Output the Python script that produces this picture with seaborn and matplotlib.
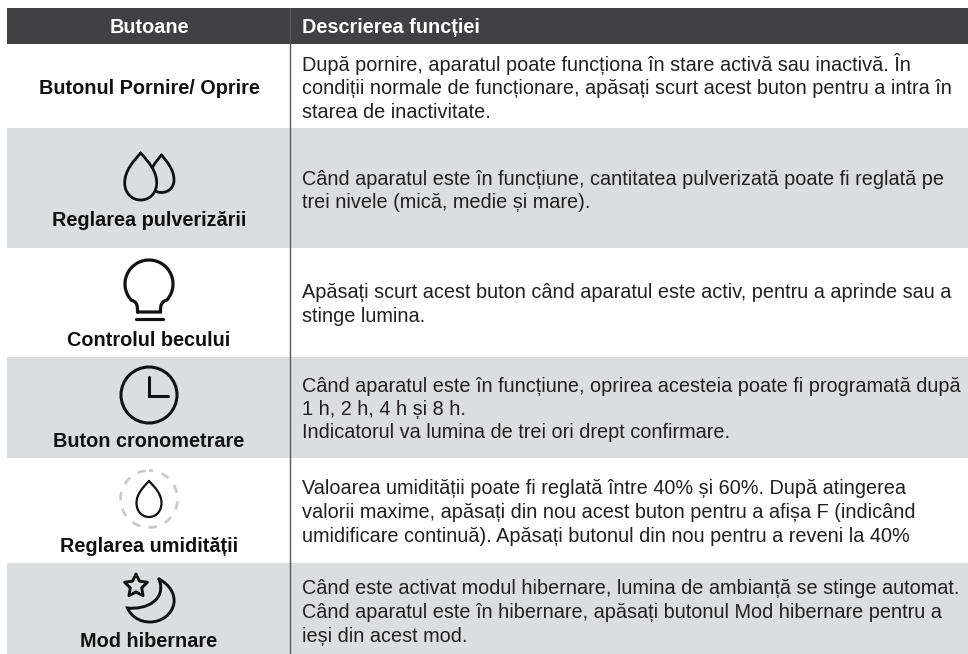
import matplotlib
matplotlib.use('Agg')
import matplotlib.pyplot as plt
from matplotlib.path import Path
from matplotlib.patches import PathPatch, Circle, Polygon
import numpy as np
import seaborn as sns

# table content
headers = ['Butoane', 'Descrierea funcției']
buttons = ['Butonul Pornire/ Oprire', 'Reglarea pulverizării', 'Controlul becului',
           'Buton cronometrare', 'Reglarea umidității', 'Mod hibernare']
descriptions = [
    ['După pornire, aparatul poate funcționa în stare activă sau inactivă. În',
     'condiții normale de funcționare, apăsați scurt acest buton pentru a intra în',
     'starea de inactivitate.'],
    ['Când aparatul este în funcțiune, cantitatea pulverizată poate fi reglată pe',
     'trei nivele (mică, medie și mare).'],
    ['Apăsați scurt acest buton când aparatul este activ, pentru a aprinde sau a',
     'stinge lumina.'],
    ['Când aparatul este în funcțiune, oprirea acesteia poate fi programată după',
     '1 h, 2 h, 4 h și 8 h.',
     'Indicatorul va lumina de trei ori drept confirmare.'],
    ['Valoarea umidității poate fi reglată între 40% și 60%. După atingerea',
     'valorii maxime, apăsați din nou acest buton pentru a afișa F (indicând',
     'umidificare continuă). Apăsați butonul din nou pentru a reveni la 40%'],
    ['Când este activat modul hibernare, lumina de ambianță se stinge automat.',
     'Când aparatul este în hibernare, apăsați butonul Mod hibernare pentru a',
     'ieși din acest mod.'],
]
row_tops = [44, 128, 248, 357, 458, 563]
row_heights = [84, 120, 109, 101, 105, 91]
label_y = [94, 226, 346, 447, 552, 647]
text_y = [[71, 94, 118], [185, 208], [298, 322], [392, 415, 438], [494, 518, 542], [594, 618, 642]]

sns.set_theme(style='white')
plt.rcParams['font.family'] = ['Liberation Sans', 'DejaVu Sans']

fig, ax = plt.subplots(figsize=(9.68, 6.54), dpi=100)
ax.set_position([0, 0, 1, 1])
ax.set_xlim(0, 968)
ax.set_ylim(654, 0)
ax.axis('off')

# header and shaded rows
ax.barh(26, 961, height=36, left=7, color='#414042', linewidth=0)
for i in range(6):
    ax.barh(row_tops[i] + row_heights[i] / 2, 961, height=row_heights[i], left=7,
            color='#dcddde' if i % 2 else 'white', linewidth=0)
ax.plot([290, 290], [8, 654], color='#58595b', lw=1)

ax.text(149, 33, headers[0], color='white', fontsize=14.3, fontweight='bold', ha='center', va='baseline')
ax.text(302, 33, headers[1], color='white', fontsize=14.3, fontweight='bold', ha='left', va='baseline')
for i in range(6):
    ax.text(149, label_y[i], buttons[i], color='#111111', fontsize=14.35, fontweight='bold', ha='center', va='baseline')
    for line, y in zip(descriptions[i], text_y[i]):
        ax.text(302, y, line, color='#231f20', fontsize=14.34, ha='left', va='baseline')


# icons
def outline(verts, codes, lw=2.1, zorder=3, fc='none'):
    ax.add_patch(PathPatch(Path(verts, codes), fc=fc, ec='#111111', lw=lw, zorder=zorder, capstyle='round'))


def drop(cx, top, bottom, w, wide, lw=2.0, fc='none', zorder=3):
    c = Path.CURVE4
    h = wide - top
    verts = [(cx, top),
             (cx + w * 0.5, top + h * 0.3), (cx + w, wide - h * 0.4), (cx + w, wide),
             (cx + w, bottom - (bottom - wide) * 0.4), (cx + w * 0.55, bottom), (cx, bottom),
             (cx - w * 0.55, bottom), (cx - w, bottom - (bottom - wide) * 0.4), (cx - w, wide),
             (cx - w, wide - h * 0.4), (cx - w * 0.5, top + h * 0.3), (cx, top)]
    outline(verts, [Path.MOVETO] + [c] * 12, lw=lw, fc=fc, zorder=zorder)


# two drops, the big one hides the small one
drop(161.5, 155, 192.5, 12.5, 180)
drop(140.7, 153, 200, 16, 183, fc='#dcddde', zorder=4)

# bulb
bulb = [(149 + 24 * np.sin(a), 284 - 24 * np.cos(a)) for a in np.radians(np.linspace(-132, 132, 60))]
verts = [(137.5, 312), (137.5, 306), (137.5, 302), (bulb[0][0], bulb[0][1])] + bulb[1:] + \
        [(160.5, 302), (160.5, 306), (160.5, 312), (137.5, 312)]
codes = [Path.MOVETO, Path.CURVE4, Path.CURVE4, Path.CURVE4] + [Path.LINETO] * 59 + \
        [Path.CURVE4, Path.CURVE4, Path.CURVE4, Path.LINETO]
outline(verts, codes, lw=2.3)
ax.plot([136, 163], [319, 319], color='#111111', lw=2.3, solid_capstyle='round', zorder=3)

# clock
ax.add_patch(Circle((149, 395), 28, fc='none', ec='#111111', lw=2.2, zorder=3))
ax.plot([149, 149, 168], [377, 396, 396], color='#111111', lw=2.2, solid_joinstyle='miter', zorder=3)

# humidity
ax.add_patch(Circle((149, 499), 28.5, fc='none', ec='#c7c8ca', lw=1.9, linestyle=(1.6, (3.2, 3.3)), zorder=3))
drop(149, 481, 517, 12.5, 503, lw=1.6)

# sleep mode
star_a = np.radians(np.arange(0, 360, 36))
star_r = np.where(np.arange(10) % 2 == 0, 12, 6)
ax.add_patch(Polygon(np.c_[136 + star_r * np.sin(star_a), 586 - star_r * np.cos(star_a)], closed=True,
                     fc='none', ec='#111111', lw=2.1, joinstyle='round', zorder=3))
c = Path.CURVE4
outline([(159, 579), (170, 585), (175, 594), (174, 603), (172, 615), (161, 622), (150, 622),
         (139, 622), (131, 616), (127.5, 608), (146, 610), (167, 600), (159, 579)],
        [Path.MOVETO] + [c] * 12)

fig.savefig('out.png', dpi=100)
